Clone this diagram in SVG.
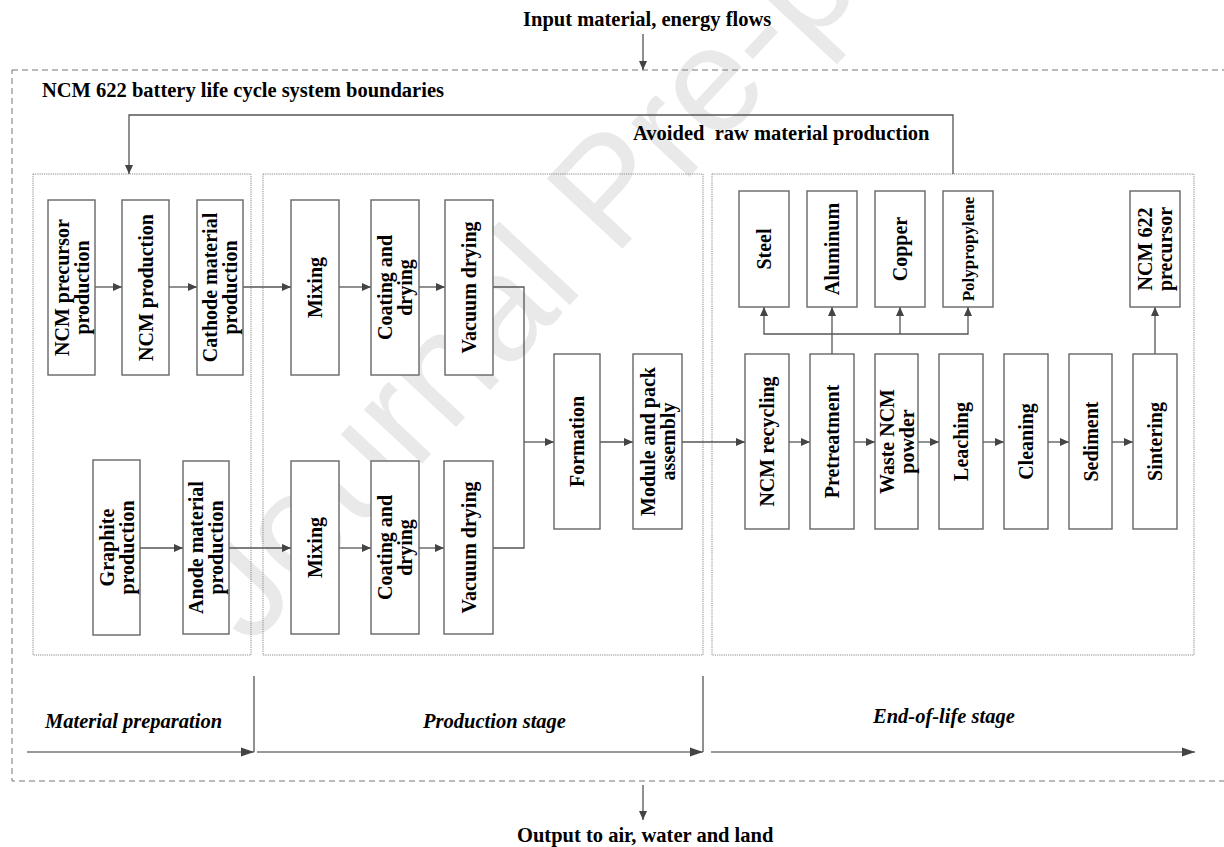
<svg xmlns="http://www.w3.org/2000/svg" width="1224" height="847" viewBox="0 0 1224 847">
<style>
text{font-family:"Liberation Serif","Times New Roman",serif;font-weight:bold;fill:#000}
.lbl{font-size:20.5px}
.stage{font-size:20.5px;font-style:italic}
.nt{font-size:20px;text-anchor:middle}
.box{fill:#fff;stroke:#666;stroke-width:1.4}
.grp{fill:none;stroke:#888;stroke-width:1;stroke-dasharray:1.2 1}
.ln{fill:none;stroke:#555;stroke-width:1.3}
.sl{fill:none;stroke:#777;stroke-width:1.6}
.wm{font-family:"Liberation Sans",Arial,sans-serif;font-weight:normal;font-size:150px;fill:#e9e9e9}
</style>
<defs>
<marker id="ah" markerUnits="userSpaceOnUse" markerWidth="10" markerHeight="8" refX="9" refY="4" orient="auto">
<path d="M0,0 L9,4 L0,8 z" fill="#444"/>
</marker>
<marker id="ahb" markerUnits="userSpaceOnUse" markerWidth="14" markerHeight="10" refX="13" refY="5" orient="auto">
<path d="M0,0.5 L13,5 L0,9.5 z" fill="#444"/>
</marker>
</defs>

<text class="wm" transform="translate(250,648) rotate(-47)">Journal Pre-proof</text>

<rect x="12" y="70" width="1216" height="711" fill="none" stroke="#777" stroke-width="1" stroke-dasharray="6 4"/>

<text class="lbl" x="523" y="26">Input material, energy flows</text>
<text class="lbl" x="42" y="97">NCM 622 battery life cycle system boundaries</text>
<text class="lbl" x="633" y="140" xml:space="preserve">Avoided  raw material production</text>
<text class="lbl" x="517" y="842">Output to air, water and land</text>

<g id="groups">
<rect class="grp" x="33" y="174" width="218" height="481"/>
<rect class="grp" x="263" y="174" width="440" height="481"/>
<rect class="grp" x="712" y="174" width="482" height="481"/>
</g>

<g id="connectors">
<line class="ln" x1="643" y1="34" x2="643" y2="70" marker-end="url(#ah)"/>
<polyline class="ln" points="953,174 953,115 129,115 129,174" marker-end="url(#ah)"/>
<line class="ln" x1="95" y1="287" x2="122" y2="287" marker-end="url(#ah)"/>
<line class="ln" x1="169" y1="287" x2="197" y2="287" marker-end="url(#ah)"/>
<line class="ln" x1="243" y1="287" x2="291" y2="287" marker-end="url(#ah)"/>
<line class="ln" x1="339" y1="287" x2="371" y2="287" marker-end="url(#ah)"/>
<line class="ln" x1="419" y1="287" x2="445" y2="287" marker-end="url(#ah)"/>
<polyline class="ln" points="493,287 524,287 524,548 493,548"/>
<line class="ln" x1="524" y1="442" x2="554" y2="442" marker-end="url(#ah)"/>
<line class="ln" x1="140" y1="548" x2="183" y2="548" marker-end="url(#ah)"/>
<line class="ln" x1="229" y1="548" x2="291" y2="548" marker-end="url(#ah)"/>
<line class="ln" x1="339" y1="548" x2="371" y2="548" marker-end="url(#ah)"/>
<line class="ln" x1="419" y1="548" x2="444" y2="548" marker-end="url(#ah)"/>
<line class="ln" x1="600" y1="442" x2="633" y2="442" marker-end="url(#ah)"/>
<line class="ln" x1="682" y1="442" x2="745" y2="442" marker-end="url(#ah)"/>
<line class="ln" x1="789" y1="442" x2="810" y2="442" marker-end="url(#ah)"/>
<line class="ln" x1="854" y1="442" x2="875" y2="442" marker-end="url(#ah)"/>
<line class="ln" x1="918" y1="442" x2="939" y2="442" marker-end="url(#ah)"/>
<line class="ln" x1="983" y1="442" x2="1004" y2="442" marker-end="url(#ah)"/>
<line class="ln" x1="1048" y1="442" x2="1069" y2="442" marker-end="url(#ah)"/>
<line class="ln" x1="1112" y1="442" x2="1133" y2="442" marker-end="url(#ah)"/>
<line class="ln" x1="832" y1="354" x2="832" y2="307" marker-end="url(#ah)"/>
<polyline class="ln" points="832,334 764,334 764,307" marker-end="url(#ah)"/>
<polyline class="ln" points="832,334 968,334 968,307" marker-end="url(#ah)"/>
<line class="ln" x1="900" y1="334" x2="900" y2="307" marker-end="url(#ah)"/>
<line class="ln" x1="1155" y1="354" x2="1155" y2="307" marker-end="url(#ah)"/>
<line class="sl" x1="27" y1="752" x2="254" y2="752" marker-end="url(#ahb)"/>
<line class="ln" x1="254" y1="676" x2="254" y2="752"/>
<line class="sl" x1="257" y1="752" x2="703" y2="752" marker-end="url(#ahb)"/>
<line class="ln" x1="703" y1="676" x2="703" y2="752"/>
<line class="sl" x1="711" y1="752" x2="1195" y2="752" marker-end="url(#ahb)"/>
<line class="ln" x1="643" y1="785" x2="643" y2="820" marker-end="url(#ah)"/>
</g>

<text class="stage" x="45" y="728">Material preparation</text>
<text class="stage" x="423" y="728">Production stage</text>
<text class="stage" x="873" y="723">End-of-life stage</text>

<g id="n-ncm-precursor"><rect class="box" x="48" y="200" width="47" height="175"/><text class="nt" transform="translate(71.5,287.5) rotate(-90)"><tspan x="0" y="-3">NCM precursor</tspan><tspan x="0" y="17">production</tspan></text></g>
<g id="n-ncm-production"><rect class="box" x="122" y="200" width="47" height="175"/><text class="nt" transform="translate(145.5,287.5) rotate(-90)" y="7">NCM production</text></g>
<g id="n-cathode"><rect class="box" x="197" y="200" width="46" height="175"/><text class="nt" transform="translate(220,287.5) rotate(-90)"><tspan x="0" y="-3">Cathode material</tspan><tspan x="0" y="17">production</tspan></text></g>
<g id="n-mixing-top"><rect class="box" x="291" y="200" width="48" height="175"/><text class="nt" transform="translate(315,287.5) rotate(-90)" y="7">Mixing</text></g>
<g id="n-coating-top"><rect class="box" x="371" y="200" width="48" height="175"/><text class="nt" transform="translate(395,287.5) rotate(-90)"><tspan x="0" y="-3">Coating and</tspan><tspan x="0" y="17">drying</tspan></text></g>
<g id="n-vacuum-top"><rect class="box" x="445" y="200" width="48" height="175"/><text class="nt" transform="translate(469,287.5) rotate(-90)" y="7">Vacuum drying</text></g>

<g id="n-graphite"><rect class="box" x="93" y="460" width="47" height="175"/><text class="nt" transform="translate(116.5,547.5) rotate(-90)"><tspan x="0" y="-3">Graphite</tspan><tspan x="0" y="17">production</tspan></text></g>
<g id="n-anode"><rect class="box" x="183" y="461" width="46" height="173"/><text class="nt" transform="translate(206,547.5) rotate(-90)"><tspan x="0" y="-3">Anode material</tspan><tspan x="0" y="17">production</tspan></text></g>
<g id="n-mixing-bot"><rect class="box" x="291" y="461" width="48" height="173"/><text class="nt" transform="translate(315,547.5) rotate(-90)" y="7">Mixing</text></g>
<g id="n-coating-bot"><rect class="box" x="371" y="461" width="48" height="173"/><text class="nt" transform="translate(395,547.5) rotate(-90)"><tspan x="0" y="-3">Coating and</tspan><tspan x="0" y="17">drying</tspan></text></g>
<g id="n-vacuum-bot"><rect class="box" x="444" y="461" width="49" height="173"/><text class="nt" transform="translate(468.5,547.5) rotate(-90)" y="7">Vacuum drying</text></g>

<g id="n-formation"><rect class="box" x="554" y="354" width="46" height="175"/><text class="nt" transform="translate(577,441.5) rotate(-90)" y="7">Formation</text></g>
<g id="n-module"><rect class="box" x="633" y="354" width="49" height="175"/><text class="nt" transform="translate(657.5,441.5) rotate(-90)"><tspan x="0" y="-3">Module and pack</tspan><tspan x="0" y="17">assembly</tspan></text></g>
<g id="n-ncm-recycling"><rect class="box" x="745" y="354" width="44" height="175"/><text class="nt" transform="translate(767,441.5) rotate(-90)" y="7">NCM recycling</text></g>
<g id="n-pretreatment"><rect class="box" x="810" y="354" width="44" height="175"/><text class="nt" transform="translate(832,441.5) rotate(-90)" y="7">Pretreatment</text></g>
<g id="n-waste"><rect class="box" x="875" y="354" width="43" height="175"/><text class="nt" transform="translate(896.5,441.5) rotate(-90)"><tspan x="0" y="-3">Waste NCM</tspan><tspan x="0" y="17">powder</tspan></text></g>
<g id="n-leaching"><rect class="box" x="939" y="354" width="44" height="175"/><text class="nt" transform="translate(961,441.5) rotate(-90)" y="7">Leaching</text></g>
<g id="n-cleaning"><rect class="box" x="1004" y="354" width="44" height="175"/><text class="nt" transform="translate(1026,441.5) rotate(-90)" y="7">Cleaning</text></g>
<g id="n-sediment"><rect class="box" x="1069" y="354" width="43" height="175"/><text class="nt" transform="translate(1090.5,441.5) rotate(-90)" y="7">Sediment</text></g>
<g id="n-sintering"><rect class="box" x="1133" y="354" width="44" height="175"/><text class="nt" transform="translate(1155,441.5) rotate(-90)" y="7">Sintering</text></g>

<g id="n-steel"><rect class="box" x="739" y="191" width="50" height="116"/><text class="nt" transform="translate(764,249) rotate(-90)" y="7">Steel</text></g>
<g id="n-aluminum"><rect class="box" x="807" y="191" width="50" height="116"/><text class="nt" transform="translate(832,249) rotate(-90)" y="7">Aluminum</text></g>
<g id="n-copper"><rect class="box" x="875" y="191" width="50" height="116"/><text class="nt" transform="translate(900,249) rotate(-90)" y="7">Copper</text></g>
<g id="n-polypropylene"><rect class="box" x="943" y="191" width="50" height="116"/><text class="nt" style="font-size:17px" transform="translate(968,249) rotate(-90)" y="6">Polypropylene</text></g>
<g id="n-ncm622"><rect class="box" x="1130" y="191" width="50" height="116"/><text class="nt" transform="translate(1155,249) rotate(-90)"><tspan x="0" y="-3">NCM 622</tspan><tspan x="0" y="17">precursor</tspan></text></g>
</svg>
